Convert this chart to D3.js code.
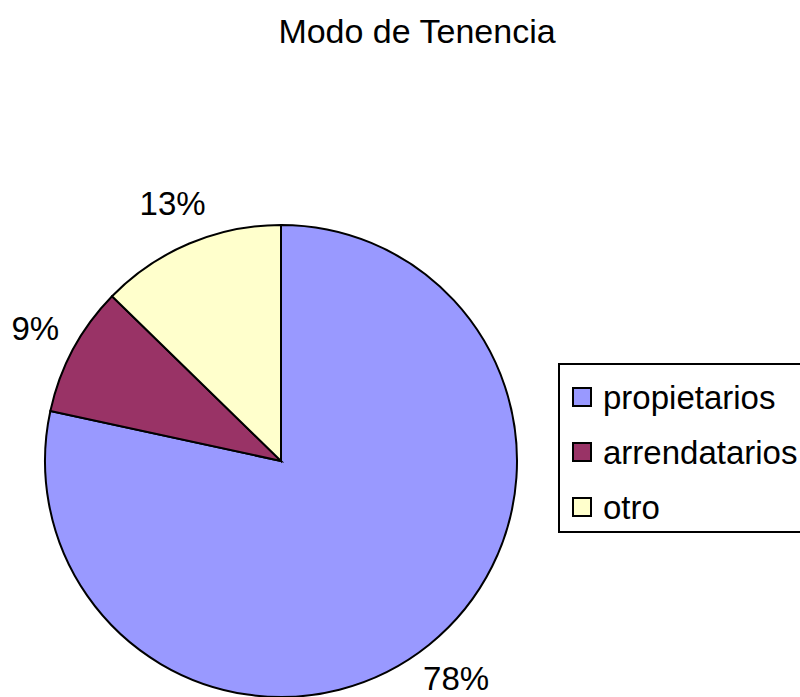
<!DOCTYPE html>
<html>
<head>
<meta charset="utf-8">
<script src="https://cdn.jsdelivr.net/npm/d3@7"></script>
<style>
  html, body { margin: 0; padding: 0; background: #fff; overflow: hidden; }
  svg { display: block; font-family: 'Liberation Sans', Arial, sans-serif; }
</style>
</head>
<body>
<svg class="pie-chart"></svg>
<script>
// data
const categories = ['propietarios', 'arrendatarios', 'otro'];
const values = [78.4, 8.9, 12.7];
const colors = ['#9999FF', '#993366', '#FFFFCC'];
const title = 'Modo de Tenencia';

const width = 800;
const height = 697;
const cx = 281;
const cy = 461;
const radius = 236;

const svg = d3.select('.pie-chart')
  .attr('width', width)
  .attr('height', height);

const data = categories.map((name, i) => ({ name, value: values[i], color: colors[i] }));
const total = d3.sum(values);

// title
svg.append('text')
  .attr('x', 417)
  .attr('y', 43)
  .attr('text-anchor', 'middle')
  .style('font-size', '34px')
  .style('fill', '#000')
  .text(title);

const pie = d3.pie().sort(null).value((d) => d.value);
const arc = d3.arc().innerRadius(0).outerRadius(radius);
const labelArc = d3.arc().innerRadius(radius + 43).outerRadius(radius + 43);

const g = svg.append('g').attr('transform', `translate(${cx},${cy})`);
const arcs = pie(data);

g.selectAll('path')
  .data(arcs)
  .enter()
  .append('path')
  .attr('d', arc)
  .style('fill', (d) => d.data.color)
  .style('stroke', '#000')
  .style('stroke-width', 2);

g.selectAll('text.pct')
  .data(arcs)
  .enter()
  .append('text')
  .attr('class', 'pct')
  .attr('transform', (d) => `translate(${labelArc.centroid(d)})`)
  .attr('text-anchor', 'middle')
  .attr('dy', '0.35em')
  .style('font-size', '33px')
  .style('fill', '#000')
  .text((d) => `${Math.round((d.data.value / total) * 100)}%`);

// legend
const legend = svg.append('g').attr('transform', 'translate(559,364)');

legend.append('rect')
  .attr('width', 260)
  .attr('height', 168)
  .style('fill', '#fff')
  .style('stroke', '#000')
  .style('stroke-width', 2);

const rowY = d3.scalePoint().domain(categories).range([33, 143]);

const item = legend.selectAll('g.item')
  .data(data)
  .enter()
  .append('g')
  .attr('class', 'item')
  .attr('transform', (d) => `translate(0,${rowY(d.name)})`);

item.append('rect')
  .attr('x', 14)
  .attr('y', -9)
  .attr('width', 18)
  .attr('height', 18)
  .style('fill', (d) => d.color)
  .style('stroke', '#000')
  .style('stroke-width', 2);

item.append('text')
  .attr('x', 44)
  .attr('dy', '0.35em')
  .style('font-size', '33px')
  .style('fill', '#000')
  .text((d) => d.name);
</script>
</body>
</html>
